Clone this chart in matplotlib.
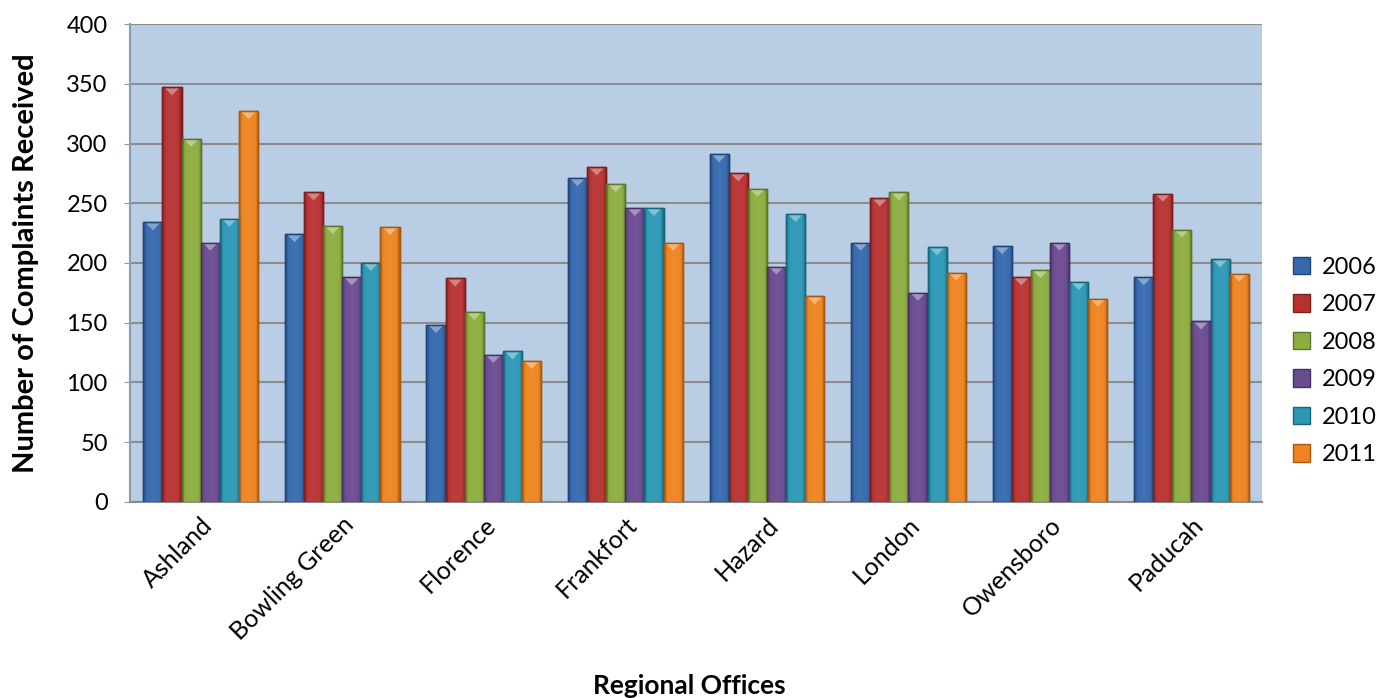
import matplotlib
matplotlib.use("Agg")
import matplotlib.pyplot as plt
import matplotlib.colors as mcolors
import numpy as np

offices = ["Ashland", "Bowling Green", "Florence", "Frankfort", "Hazard", "London", "Owensboro", "Paducah"]
years = ["2006", "2007", "2008", "2009", "2010", "2011"]
v2006 = [234, 224, 148, 271, 291, 217, 214, 188]
v2007 = [347, 259, 187, 280, 275, 254, 188, 258]
v2008 = [304, 231, 159, 266, 262, 259, 194, 228]
v2009 = [217, 188, 123, 246, 197, 175, 217, 151]
v2010 = [237, 200, 126, 246, 241, 213, 184, 203]
v2011 = [327, 230, 118, 217, 172, 192, 170, 191]
series = [v2006, v2007, v2008, v2009, v2010, v2011]

colors = ["#3469AE", "#B83131", "#8CAD3F", "#6A4A91", "#2B98B5", "#EE841F"]
edges = ["#1F4476", "#7A1E1E", "#5C7528", "#452F62", "#1A6478", "#A8580F"]

plt.rcParams['font.family'] = ['Lato', 'DejaVu Sans']
fig = plt.figure(figsize=(13.78, 6.98), dpi=100)
ax = fig.add_axes([0.0943, 0.281, 0.8217, 0.6845])
ax.set_facecolor("#B9CDE5")


def shade(c, f):
    r = np.array(mcolors.to_rgb(c))
    if f >= 0:
        return r + (1 - r) * f
    return r * (1 + f)


x = np.arange(len(offices))
w = 0.135
ax.set_xlim(-0.5, len(offices) - 0.5)
ax.set_ylim(0, 400)
for i, (vals, c, e) in enumerate(zip(series, colors, edges)):
    pos = x + (i - 2.5) * w
    bars = ax.bar(pos, vals, width=w, color=c, edgecolor=e, linewidth=1.0, label=years[i], zorder=3)
    # horizontal bevel gradient
    t = np.linspace(0, 1, 32)
    prof = np.where(t < 0.15, -0.25 + t / 0.15 * 0.25, np.where(t > 0.85, -(t - 0.85) / 0.15 * 0.3, 0.05 * np.sin(np.pi * t)))
    grad = np.array([shade(c, f) for f in prof])[None, :, :]
    for b in bars:
        bx, by = b.get_x(), b.get_y()
        bw, bh = b.get_width(), b.get_height()
        im = ax.imshow(grad, extent=[bx, bx + bw, by, by + bh], aspect="auto", zorder=3.1,
                       interpolation="bilinear")
        im.set_clip_path(b)
        # top highlight triangle
        tri_h = 8 * 400 / 478
        ax.fill([bx + bw * 0.15, bx + bw * 0.85, bx + bw * 0.5],
                [by + bh - 0.8, by + bh - 0.8, by + bh - tri_h],
                color=shade(c, 0.4), zorder=3.2, linewidth=0)
        ax.bar(bx + bw / 2, bh, width=bw, bottom=by, fill=False, edgecolor=e, linewidth=1.0, zorder=3.3)

ax.set_xlim(-0.5, len(offices) - 0.5)
ax.set_ylim(0, 400)
ax.set_yticks(range(0, 401, 50))
ax.yaxis.grid(True, color="#8C8C8C", linewidth=1.5, zorder=0)
ax.set_axisbelow(True)
for s in ["top", "right"]:
    ax.spines[s].set_visible(False)
ax.spines["left"].set_color("#8C9CB0")
ax.spines["bottom"].set_color("#8C8C8C")
ax.spines["left"].set_linewidth(1.5)
ax.spines["bottom"].set_linewidth(1.5)
ax.tick_params(axis="y", labelsize=17, length=4, color="#8C9CB0", pad=12)
ax.tick_params(axis="x", labelsize=18, length=0, pad=8)
ax.set_xticks(x)
ax.set_xticklabels(offices, rotation=45, ha="right", rotation_mode="anchor")
ax.set_ylabel("Number of Complaints Received", fontsize=21, fontweight="bold", labelpad=20)
fig.text(0.5, 1 - 686 / 698, "Regional Offices", fontsize=19, fontweight="bold", ha="center", va="center")

handles, labels = ax.get_legend_handles_labels()
leg = fig.legend(handles, labels, loc="center left", bbox_to_anchor=(1276 / 1378, 1 - 361 / 698), frameon=False,
                 fontsize=17, handlelength=0.75, handleheight=0.75, handletextpad=0.5, labelspacing=0.7,
                 borderpad=0.2)

fig.savefig("out.png", dpi=100)
